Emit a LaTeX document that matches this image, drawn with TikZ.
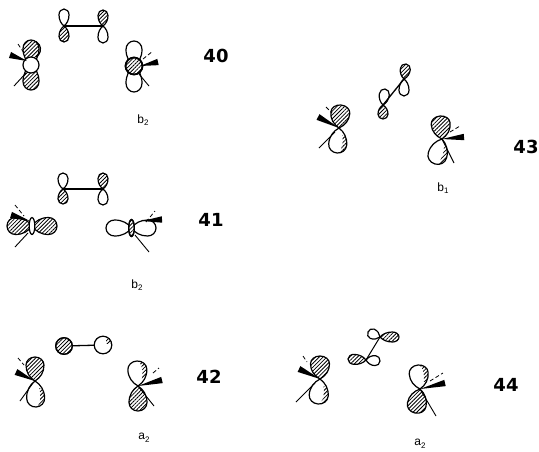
\documentclass[tikz,border=0pt]{standalone}
\usepackage{fontspec}
\setmainfont{Liberation Sans}
\newfontfamily\numfont{DejaVu Sans}[BoldFont={DejaVu Sans Bold}]
\usetikzlibrary{patterns.meta,calc}
\tikzset{
  hatch/.style={pattern={Lines[angle=45,distance=2.7pt,line width=.8pt]}},
  orb/.style={line width=1.2pt,line join=round},
  pibond/.style={line width=1.3pt},
  thinbond/.style={line width=.9pt},
  dashbond/.style={line width=.8pt,dash pattern=on 4pt off 2.5pt},
  cplx/.style={font=\numfont\bfseries\fontsize{18}{18}\selectfont,inner sep=0pt},
  sym/.style={font=\fontsize{12}{12}\selectfont,inner sep=0pt}
}
% lobe from (#1,#2) to tip (#3,#4), width #5, options #6
\newcommand\lobepath{(0,0) .. controls (.14*\lenv,.30*\widv) and (.36*\lenv,.5*\widv) .. (.66*\lenv,.5*\widv)
  .. controls (.85*\lenv,.5*\widv) and (\lenv,.28*\widv) .. (\lenv,0)
  .. controls (\lenv,-.28*\widv) and (.85*\lenv,-.5*\widv) .. (.66*\lenv,-.5*\widv)
  .. controls (.36*\lenv,-.5*\widv) and (.14*\lenv,-.30*\widv) .. (0,0) -- cycle}
\newcommand\lobe[6]{%
  \pgfmathsetmacro\angv{atan2(-((#4)-(#2)),(#3)-(#1))}%
  \pgfmathsetmacro\lenv{veclen((#3)-(#1),(#4)-(#2))}%
  \def\widv{#5}%
  \begin{scope}[shift={(#1,#2)},rotate=\angv]
    \fill[white] \lobepath;
    \draw[orb,#6] \lobepath;
  \end{scope}}
% white lobe with hatched crescent along one side (#6 = +1 or -1)
\newcommand\clobe[6]{%
  \pgfmathsetmacro\angv{atan2(-((#4)-(#2)),(#3)-(#1))}%
  \pgfmathsetmacro\lenv{veclen((#3)-(#1),(#4)-(#2))}%
  \def\widv{#5}%
  \begin{scope}[shift={(#1,#2)},rotate=\angv]
    \fill[white] \lobepath;
    \begin{scope}
      \clip \lobepath;
      \fill[hatch] (.28*\lenv,#6*.22*\widv) .. controls (.5*\lenv,#6*.3*\widv) and (.8*\lenv,#6*.28*\widv) .. (.96*\lenv,#6*.12*\widv)
        -- (1.1*\lenv,#6*\widv) -- (.28*\lenv,#6*\widv) -- cycle;
    \end{scope}
    \draw[orb] \lobepath;
  \end{scope}}
\newcommand\wedgeb[2]{\fill ($(#2)!3.2pt!90:(#1)$) -- ($(#2)!3.2pt!-90:(#1)$) -- (#1) -- cycle;}
\begin{document}
\begin{tikzpicture}[x=1pt,y=-1pt]
\useasboundingbox (0,0) rectangle (539,451);
\fill[white] (0,0) rectangle (539,451);

% ---------- 40
\coordinate (a40) at (64,26); \coordinate (b40) at (103,26);
\lobe{64}{26}{64}{9}{10}{}
\lobe{64}{26}{64}{42}{10}{hatch}
\lobe{103}{26}{103}{10}{10}{hatch}
\lobe{103}{26}{103}{43}{10}{}
\draw[pibond] (a40) -- (b40);
\coordinate (m40) at (31,65); \coordinate (n40) at (134,66);
\lobe{31}{65}{31}{40}{16}{hatch}
\lobe{31}{65}{31}{90}{16}{hatch}
\draw[orb] (36,57) arc[start angle=60,end angle=-60,radius=9];
\draw[orb,fill=white] (m40) circle (8);
\draw[thinbond] (14,86) -- (26,73);
\draw[dashbond] (18,44) -- (24,53);
\coordinate (w40) at (10,55); \coordinate (wa) at (27,61); \wedgeb{wa}{w40}
\lobe{134}{66}{134}{41}{16}{}
\lobe{134}{66}{134}{92}{16}{}
\draw[line width=1.6pt,fill=white] (n40) circle (8.5);
\draw[line width=1.6pt,hatch] (n40) circle (8.5);
\draw[thinbond] (139,74) -- (149,86);
\draw[dashbond] (143,59) -- (153,51);
\coordinate (w41) at (158,62); \coordinate (wb) at (140,66); \wedgeb{wb}{w41}
\node[sym] (l40) at (143,120) {b\raisebox{-2.5pt}{\fontsize{8}{8}\selectfont 2}};
\node[cplx] (t40) at (216,56) {40};

% ---------- 41
\coordinate (a41) at (63,189); \coordinate (b41) at (103,189);
\lobe{63}{189}{63}{173}{10}{}
\lobe{63}{189}{63}{204}{10}{hatch}
\lobe{103}{189}{103}{173}{10}{hatch}
\lobe{103}{189}{103}{205}{10}{}
\draw[pibond] (a41) -- (b41);
\coordinate (m41) at (32,226); \coordinate (n41) at (131.5,228);
\lobe{32}{226}{7}{226}{17}{hatch}
\lobe{32}{226}{57}{226}{17}{hatch}
\draw[orb,fill=white] (m41) ellipse [x radius=2.8,y radius=8.5];
\draw[thinbond] (15,247) -- (28,233);
\draw[dashbond] (15,205) -- (24,216);
\coordinate (w42) at (11,215); \coordinate (wc) at (30,221); \wedgeb{wc}{w42}
\lobe{131.5}{228}{106}{228}{16}{}
\lobe{131.5}{228}{156}{228}{16}{}
\draw[orb,fill=white] (n41) ellipse [x radius=2.8,y radius=8.5];
\draw[orb,hatch] (n41) ellipse [x radius=2.8,y radius=8.5];
\draw[thinbond] (135,235) -- (149,252);
\draw[dashbond] (146,222) -- (155,211);
\coordinate (w43) at (162,219.5); \coordinate (wd) at (142,221); \wedgeb{wd}{w43}
\node[sym] (l41) at (137,285) {b\raisebox{-2.5pt}{\fontsize{8}{8}\selectfont 2}};
\node[cplx] (t41) at (211,220) {41};

% ---------- 42
\coordinate (a42) at (64,346); \coordinate (b42) at (103,345);
\draw[pibond] (a42) -- (b42);
\draw[orb,fill=white] (a42) circle (8.3);
\draw[orb,hatch] (a42) circle (8.3);
\draw[orb,fill=white] (b42) circle (8.8);
\begin{scope}
  \clip (b42) circle (8.8);
  \fill[hatch] (106,334) rectangle (113,343);
\end{scope}
\coordinate (m42) at (35,381); \coordinate (n42) at (138,386);
\lobe{35}{381}{35}{357}{18}{hatch}
\clobe{35}{381}{36}{407}{18}{-1}
\draw[thinbond] (20,401) -- (33,383);
\draw[dashbond] (18,358) -- (24,365);
\coordinate (w44) at (16,372); \wedgeb{m42}{w44}
\clobe{138}{386}{137}{361}{19}{1}
\lobe{138}{386}{138}{411}{18}{hatch}
\draw[thinbond] (n42) -- (154,406);
\draw[dashbond] (153,373) -- (159,368);
\coordinate (w45) at (162,380); \wedgeb{n42}{w45}
\node[sym] (l42) at (144,438) {a\raisebox{-2.5pt}{\fontsize{8}{8}\selectfont 2}};
\node[cplx] (t42) at (209,377) {42};

% ---------- 43
\coordinate (a43) at (383,105); \coordinate (b43) at (404,79);
\lobe{383}{105}{385}{89}{10}{}
\lobe{383}{105}{383}{119}{10}{hatch}
\lobe{404}{79}{406}{64}{10}{hatch}
\lobe{404}{79}{404}{96}{10}{}
\draw[pibond] (a43) -- (b43);
\coordinate (m43) at (339,128); \coordinate (n43) at (442,139);
\lobe{339}{128}{341}{105}{19}{hatch}
\clobe{339}{128}{337}{153}{18}{-1}
\draw[thinbond] (319,148) -- (335,132);
\draw[dashbond] (326,107) -- (332,113);
\coordinate (w46) at (318,117); \wedgeb{m43}{w46}
\lobe{442}{139}{440}{116}{19}{hatch}
\clobe{442}{139}{435}{164}{19}{-1}
\draw[thinbond] (n43) -- (454,163);
\draw[dashbond] (450,132) -- (460,126);
\coordinate (w47) at (464,137); \wedgeb{n43}{w47}
\node[sym] (l43) at (443,188) {b\raisebox{-2.5pt}{\fontsize{8}{8}\selectfont 1}};
\node[cplx] (t43) at (526,147) {43};

% ---------- 44
\coordinate (a44) at (380,337); \coordinate (b44) at (366,360);
\lobe{380}{337}{368}{332}{10}{}
\lobe{380}{337}{399}{337}{10}{hatch}
\lobe{366}{360}{348}{359}{10}{hatch}
\lobe{366}{360}{380}{361}{10}{}
\draw[pibond,line width=1pt] (a44) -- (b44);
\coordinate (m44) at (320,379); \coordinate (n44) at (420,389);
\lobe{320}{379}{320}{356}{19}{hatch}
\clobe{320}{379}{318}{404}{19}{-1}
\draw[thinbond] (296,402) -- (315,383);
\draw[dashbond] (303,356) -- (307,362);
\coordinate (w48) at (299,369); \wedgeb{m44}{w48}
\clobe{420}{389}{418}{365}{19}{1}
\lobe{420}{389}{415}{413}{19}{hatch}
\draw[thinbond] (n44) -- (436,416);
\draw[dashbond] (430,381) -- (443,373);
\coordinate (w49) at (445,383); \wedgeb{n44}{w49}
\node[sym] (l44) at (420,444) {a\raisebox{-2.5pt}{\fontsize{8}{8}\selectfont 2}};
\node[cplx] (t44) at (506,385) {44};
\end{tikzpicture}
\end{document}
